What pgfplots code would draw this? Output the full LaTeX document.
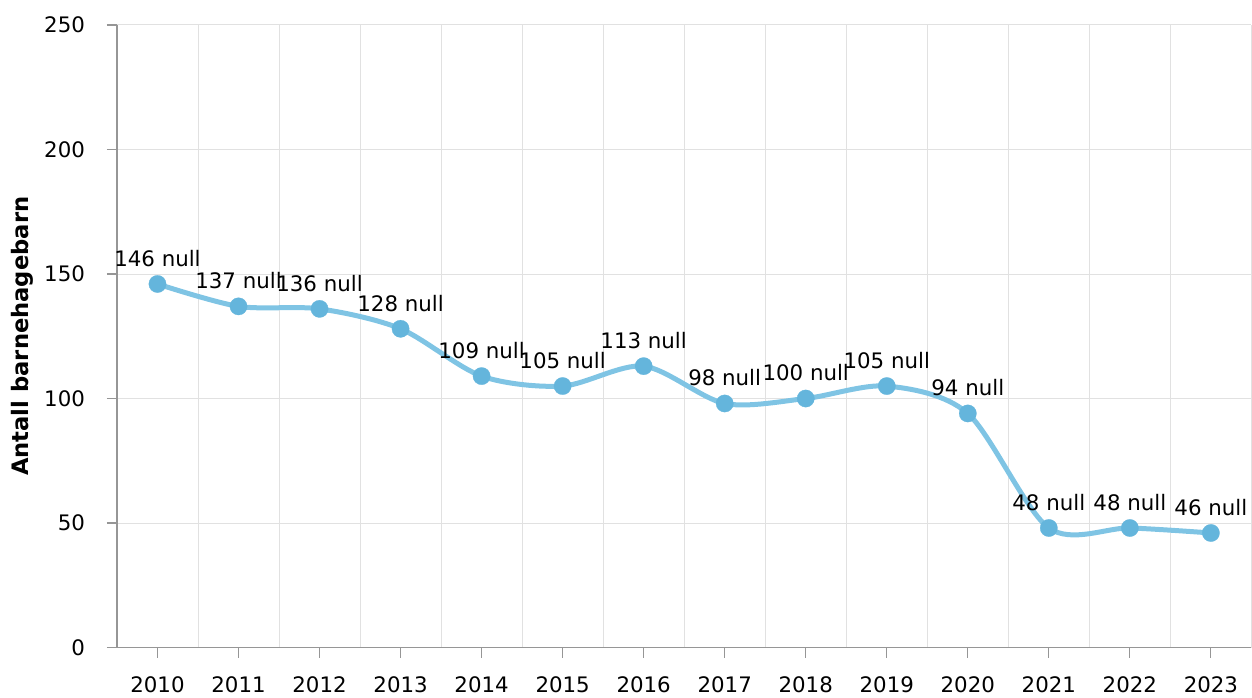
\documentclass[border=0pt]{standalone}
\usepackage{pgfplots}
\pgfplotsset{compat=1.18}
\usepackage{fontspec}
\setmainfont{DejaVu Sans}

\definecolor{linecol}{RGB}{127,196,228}
\definecolor{markcol}{RGB}{100,181,220}
\definecolor{gridcol}{RGB}{225,225,225}
\definecolor{axiscol}{RGB}{150,150,150}

\begin{document}
\begin{tikzpicture}
\begin{axis}[
    scale only axis,
    width=851pt, height=467pt,
    font=\fontsize{16pt}{19pt}\selectfont,
    /pgf/number format/assume math mode=true,
    xmin=-0.5, xmax=13.5,
    ymin=0, ymax=250,
    ytick={0,50,...,250},
    xtick={0,...,13},
    xticklabels={2010,2011,2012,2013,2014,2015,2016,2017,2018,2019,2020,2021,2022,2023},
    minor xtick={-0.5,0.5,...,13.5},
    xminorgrids, ymajorgrids,
    grid style={gridcol, line width=0.75pt},
    minor grid style={gridcol, line width=0.75pt},
    axis lines*=left,
    axis line style={axiscol, line width=0.9pt, -},
    tick style={axiscol, line width=0.9pt},
    minor tick length=0pt,
    major tick length=7.5pt,
    tick align=outside,
    yticklabel style={xshift=-13pt},
    xticklabel style={yshift=-11pt},
    ylabel={\fontsize{17pt}{20pt}\selectfont\bfseries Antall barnehagebarn},
    ylabel style={at={(axis description cs:-0.0834,0.5)}, anchor=center},
    clip=false,
]
\addplot[smooth, color=linecol, line width=3.75pt,
    mark=*, mark size=6.5pt,
    mark options={draw=markcol, fill=markcol, line width=0.2pt},
    nodes near coords={\pgfmathprintnumber{\pgfplotspointmeta} null},
    every node near coord/.append style={black, anchor=south, inner sep=0pt, yshift=13pt}]
coordinates {
(0,146) (1,137) (2,136) (3,128) (4,109) (5,105) (6,113)
(7,98) (8,100) (9,105) (10,94) (11,48) (12,48) (13,46)
};
\end{axis}
\path ([xshift=-87.75pt,yshift=18.75pt]current axis.north west);
\path ([yshift=-33.75pt]current axis.south east);
\end{tikzpicture}
\end{document}
